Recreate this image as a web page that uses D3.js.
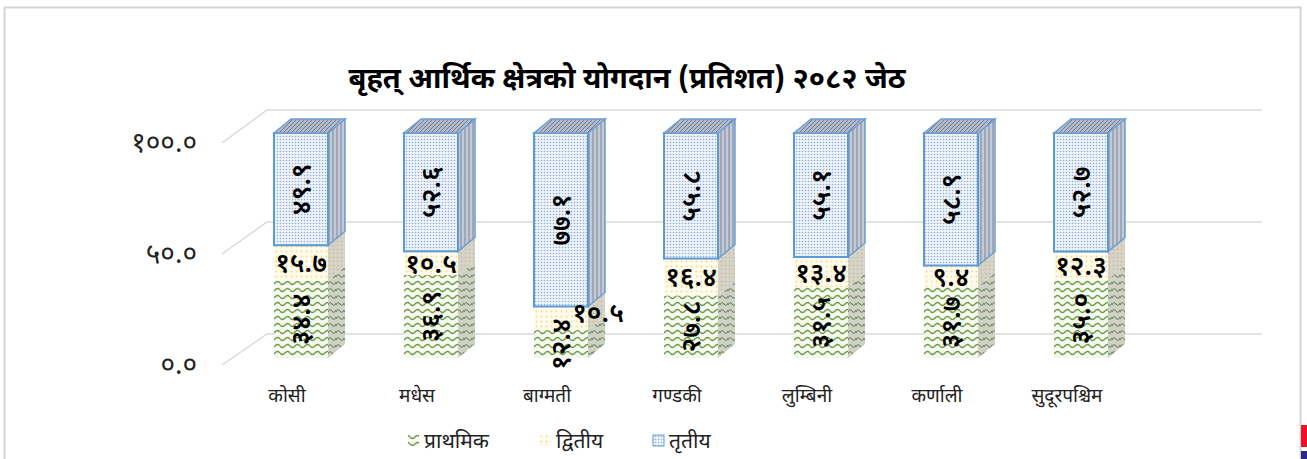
<!DOCTYPE html>
<html>
<head>
<meta charset="utf-8">
<script src="https://cdn.jsdelivr.net/npm/d3@7"></script>
<style>
  body { margin: 0; background: #fff; }
  text { font-family: "Noto Sans Devanagari", "Noto Sans", "Lohit Devanagari", sans-serif; }
</style>
</head>
<body>
<div id="chart"></div>
<script>
// data
var provinces = ["कोसी", "मधेस", "बाग्मती", "गण्डकी", "लुम्बिनी", "कर्णाली", "सुदूरपश्चिम"];
var primary   = [34.4, 36.9, 12.4, 27.8, 31.5, 31.7, 35.0];
var secondary = [15.7, 10.5, 10.5, 16.4, 13.4, 9.4, 12.3];
var tertiary  = [49.9, 52.6, 77.1, 55.8, 55.1, 58.9, 52.7];
var seriesNames = ["प्राथमिक", "द्वितीय", "तृतीय"];
var yTicks = [0, 50, 100];

var W = 1307, H = 459;
var devDigits = "०१२३४५६७८९";
function toDev(s) {
  return String(s).replace(/[0-9]/g, function(c) { return devDigits[+c]; });
}

var svg = d3.select("#chart").append("svg")
  .attr("width", W).attr("height", H);

// patterns
var defs = svg.append("defs");

var pPrim = defs.append("pattern").attr("id", "pPrim")
  .attr("patternUnits", "userSpaceOnUse").attr("width", 10).attr("height", 7);
pPrim.append("rect").attr("width", 10).attr("height", 7).attr("fill", "#f6f9ee");
pPrim.append("path").attr("d", "M0,3 Q2.5,6 5,3 T10,3")
  .attr("fill", "none").attr("stroke", "#6a9a45").attr("stroke-width", 1.3);

var pPrimSide = defs.append("pattern").attr("id", "pPrimSide")
  .attr("patternUnits", "userSpaceOnUse").attr("width", 8).attr("height", 7);
pPrimSide.append("rect").attr("width", 8).attr("height", 7).attr("fill", "#cfd0c6");
pPrimSide.append("path").attr("d", "M0,4 Q2,0 4,3 T8,2")
  .attr("fill", "none").attr("stroke", "#6f8a5c").attr("stroke-width", 1.1);

var pSec = defs.append("pattern").attr("id", "pSec")
  .attr("patternUnits", "userSpaceOnUse").attr("width", 5).attr("height", 5);
pSec.append("rect").attr("width", 5).attr("height", 5).attr("fill", "#fffcee");
pSec.append("circle").attr("cx", 1.5).attr("cy", 1.5).attr("r", 1).attr("fill", "#f3dc8e");

var pSecSide = defs.append("pattern").attr("id", "pSecSide")
  .attr("patternUnits", "userSpaceOnUse").attr("width", 4).attr("height", 4);
pSecSide.append("rect").attr("width", 4).attr("height", 4).attr("fill", "#d6d3c6");
pSecSide.append("circle").attr("cx", 1.5).attr("cy", 1.5).attr("r", 0.8).attr("fill", "#bdb79f");

var pTer = defs.append("pattern").attr("id", "pTer")
  .attr("patternUnits", "userSpaceOnUse").attr("width", 3).attr("height", 3);
pTer.append("rect").attr("width", 3).attr("height", 3).attr("fill", "#eef3fa");
pTer.append("circle").attr("cx", 1.5).attr("cy", 1.5).attr("r", 0.8).attr("fill", "#8eaed6");

var pTerSide = defs.append("pattern").attr("id", "pTerSide")
  .attr("patternUnits", "userSpaceOnUse").attr("width", 4).attr("height", 4);
pTerSide.append("rect").attr("width", 4).attr("height", 4).attr("fill", "#c3cad6");
pTerSide.append("path").attr("d", "M1,0 L1,4").attr("stroke", "#7c8698").attr("stroke-width", 1);

var pTop = defs.append("pattern").attr("id", "pTop")
  .attr("patternUnits", "userSpaceOnUse").attr("width", 4).attr("height", 4);
pTop.append("rect").attr("width", 4).attr("height", 4).attr("fill", "#b4bccb");
pTop.append("path").attr("d", "M0,4 L4,0").attr("stroke", "#6f7a8e").attr("stroke-width", 1);

var frontFill = ["url(#pPrim)", "url(#pSec)", "url(#pTer)"];
var sideFill = ["url(#pPrimSide)", "url(#pSecSide)", "url(#pTerSide)"];

// outer frame
svg.append("rect").attr("x", 4.5).attr("y", 7.5).attr("width", 1296).attr("height", 480)
  .attr("fill", "none").attr("stroke", "#d4d4d4").attr("stroke-width", 2);
svg.append("rect").attr("x", 1301).attr("y", 425).attr("width", 6).attr("height", 22).attr("fill", "#f0102a");
svg.append("rect").attr("x", 1301).attr("y", 451).attr("width", 6).attr("height", 8).attr("fill", "#2b2a86");

// title
svg.append("text")
  .attr("x", 627).attr("y", 88)
  .attr("text-anchor", "middle")
  .style("font-size", "29px").style("font-weight", "bold")
  .text("बृहत् आर्थिक क्षेत्रको योगदान (प्रतिशत) २०८२ जेठ");

// scales
var yFront = d3.scaleLinear().domain([0, 100]).range([365, 143]);
var yBack = d3.scaleLinear().domain([0, 100]).range([334, 110]);
var yBar = d3.scaleLinear().domain([0, 100]).range([358, 133]);
var x = d3.scalePoint().domain(provinces).range([301, 1081]);
var barW = 54, dx = 17, dy = -14;
var wallX0 = 222, wallX1 = 267, wallEnd = 1262;

// gridlines (3d walls)
var grid = svg.append("g");
yTicks.forEach(function(v) {
  grid.append("path")
    .attr("d", "M" + wallX0 + "," + yFront(v) + "L" + wallX1 + "," + yBack(v) + "L" + wallEnd + "," + yBack(v))
    .attr("fill", "none").attr("stroke", "#d9d9d9").attr("stroke-width", 1.5);
});

// axis
var yAxis = svg.append("g")
  .attr("transform", "translate(197,0)")
  .call(d3.axisLeft(yFront).tickValues(yTicks).tickSize(0).tickPadding(0)
    .tickFormat(function(d) { return toDev(d3.format(".1f")(d)); }));
yAxis.select(".domain").remove();
yAxis.selectAll("text")
  .style("font-size", "28px").style("fill", "#222")
  .style("font-family", "\"Noto Sans Devanagari\", \"Noto Sans\", sans-serif");

// bars
var bars = svg.append("g");
provinces.forEach(function(p, i) {
  var vals = [primary[i], secondary[i], tertiary[i]];
  var xl = x(p) - barW / 2, xr = x(p) + barW / 2;
  var base = 0;
  var g = bars.append("g");
  vals.forEach(function(v, k) {
    var y0 = yBar(base), y1 = yBar(base + v);
    g.append("polygon")
      .attr("points", [[xr, y0], [xr + dx, y0 + dy], [xr + dx, y1 + dy], [xr, y1]].join(" "))
      .attr("fill", sideFill[k])
      .attr("stroke", k === 2 ? "#6d9fd6" : "none").attr("stroke-width", 1.5);
    g.append("rect")
      .attr("x", xl).attr("y", y1).attr("width", barW).attr("height", y0 - y1)
      .attr("fill", frontFill[k])
      .attr("stroke", k === 2 ? "#5b9bd5" : "none").attr("stroke-width", 2);
    base += v;
  });
  var yt = yBar(base);
  g.append("polygon")
    .attr("points", [[xl, yt], [xl + dx, yt + dy], [xr + dx, yt + dy], [xr, yt]].join(" "))
    .attr("fill", "url(#pTop)").attr("stroke", "#6d9fd6").attr("stroke-width", 1.5);
});

// data labels
var labels = svg.append("g")
  .style("font-size", "27px").style("font-weight", "600").style("fill", "#000");
provinces.forEach(function(p, i) {
  var cx = x(p);
  var b1 = primary[i], b2 = primary[i] + secondary[i];
  // primary (rotated)
  var yp = yBar(b1 / 2);
  labels.append("text")
    .attr("transform", "translate(" + cx + "," + yp + ") rotate(-90)")
    .attr("text-anchor", "middle").attr("dy", "0.35em")
    .text(toDev(d3.format(".1f")(primary[i])));
  // secondary (horizontal)
  var ys = yBar(b1 + secondary[i] / 2);
  var sx = cx;
  if (i === 2) { sx = cx + 37; ys = yBar(b1 + secondary[i]) + 6; }
  labels.append("text")
    .attr("x", sx).attr("y", ys)
    .attr("text-anchor", "middle").attr("dy", "0.35em")
    .text(toDev(d3.format(".1f")(secondary[i])));
  // tertiary (rotated)
  var yt = yBar(b2 + tertiary[i] / 2);
  labels.append("text")
    .attr("transform", "translate(" + cx + "," + yt + ") rotate(-90)")
    .attr("text-anchor", "middle").attr("dy", "0.35em")
    .text(toDev(d3.format(".1f")(tertiary[i])));
});

// category labels
svg.append("g").selectAll("text")
  .data(provinces).enter().append("text")
  .attr("x", function(d) { return x(d) - 14; })
  .attr("y", 402)
  .attr("text-anchor", "middle")
  .style("font-size", "19px").style("fill", "#222")
  .text(function(d) { return d; });

// legend
var legX = [408, 540, 653];
var leg = svg.append("g");
seriesNames.forEach(function(name, k) {
  leg.append("rect")
    .attr("x", legX[k]).attr("y", 435).attr("width", 11).attr("height", 11)
    .attr("fill", frontFill[k])
    .attr("stroke", k === 2 ? "#5b9bd5" : "none").attr("stroke-width", 1);
  leg.append("text")
    .attr("x", legX[k] + 16).attr("y", 448)
    .style("font-size", "21px").style("fill", "#222")
    .text(name);
});
</script>
</body>
</html>
